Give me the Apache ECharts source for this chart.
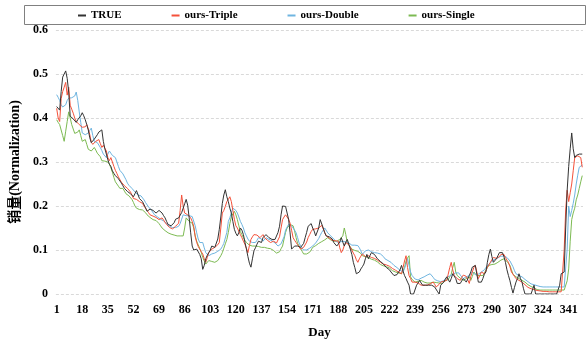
<!DOCTYPE html>
<html>
<head>
<meta charset="utf-8">
<script src="https://cdn.jsdelivr.net/npm/echarts@6/dist/echarts.min.js"></script>
<style>html,body{margin:0;padding:0;background:#fff}#c{width:587px;height:344px}</style>
</head>
<body>
<div id="c"></div>
<script>
const seriesNames = ['TRUE', 'ours-Triple', 'ours-Double', 'ours-Single'];
const yTicks = [0, 0.1, 0.2, 0.3, 0.4, 0.5, 0.6];

const trueVals = [
0.426,0.43,0.418,0.46,0.493,0.50,0.507,0.49,0.459,0.404,
0.40,0.398,0.396,0.39,0.396,0.398,0.405,0.412,0.405,0.396,
0.385,0.373,0.355,0.344,0.348,0.352,0.355,0.362,0.368,0.371,
0.373,0.347,0.33,0.318,0.305,0.295,0.29,0.28,0.274,0.269,
0.265,0.262,0.259,0.252,0.246,0.240,0.237,0.233,0.23,0.228,
0.224,0.221,0.228,0.235,0.237,0.217,0.214,0.21,0.206,0.196,
0.188,0.19,0.193,0.195,0.19,0.187,0.184,0.187,0.190,0.186,
0.184,0.178,0.173,0.165,0.158,0.156,0.155,0.154,0.162,0.170,
0.173,0.173,0.173,0.185,0.195,0.205,0.215,0.202,0.173,0.139,
0.109,0.100,0.100,0.102,0.100,0.09,0.08,0.056,0.065,0.080,
0.088,0.094,0.10,0.109,0.108,0.106,0.106,0.125,0.147,0.175,
0.206,0.225,0.237,0.221,0.21,0.195,0.184,0.165,0.147,0.138,
0.132,0.14,0.15,0.145,0.135,0.118,0.102,0.085,0.07,0.061,
0.08,0.098,0.105,0.113,0.12,0.118,0.117,0.128,0.132,0.135,
0.132,0.128,0.128,0.124,0.120,0.124,0.128,0.14,0.154,0.18,
0.2,0.2,0.199,0.199,0.17,0.139,0.102,0.105,0.109,0.109,
0.109,0.109,0.106,0.106,0.115,0.128,0.14,0.154,0.157,0.160,
0.150,0.143,0.132,0.132,0.15,0.169,0.173,0.15,0.139,0.132,
0.128,0.13,0.132,0.125,0.117,0.117,0.109,0.109,0.118,0.128,
0.118,0.109,0.118,0.124,0.113,0.102,0.09,0.072,0.06,0.046,
0.046,0.05,0.057,0.062,0.068,0.08,0.09,0.08,0.087,0.094,
0.094,0.09,0.087,0.08,0.076,0.074,0.072,0.068,0.065,0.06,
0.057,0.055,0.05,0.046,0.042,0.042,0.044,0.046,0.055,0.065,
0.052,0.042,0.035,0.027,0.02,0.0,0.0,0.0,0.0,0.02,
0.025,0.031,0.025,0.02,0.02,0.02,0.02,0.02,0.02,0.02,
0.018,0.016,0.014,0.005,0.0,0.02,0.022,0.027,0.033,0.039,
0.039,0.027,0.035,0.046,0.046,0.035,0.024,0.024,0.024,0.03,
0.035,0.031,0.027,0.027,0.042,0.05,0.061,0.063,0.065,0.045,
0.027,0.027,0.027,0.035,0.045,0.05,0.072,0.09,0.102,0.085,
0.072,0.075,0.080,0.087,0.094,0.094,0.094,0.085,0.072,0.055,
0.042,0.03,0.015,0.002,0.015,0.027,0.035,0.046,0.035,0.027,
0.012,0.0,0.0,0.0,0.0,0.0,0.0,0.02,0.0,0.0,
0,0,0,0,0,0,0,0,0,0,
0,0,0,0,0.02,0.046,0.05,0.05,0.15,0.236,
0.29,0.33,0.366,0.33,0.31,0.315,0.318,0.318,0.318,0.318
];

const tripleVals = [
0.422,0.40,0.392,0.444,0.46,0.47,0.481,0.452,0.470,0.429,
0.42,0.411,0.40,0.392,0.388,0.385,0.381,0.379,0.377,0.38,
0.385,0.375,0.362,0.345,0.340,0.344,0.347,0.349,0.351,0.342,
0.333,0.338,0.340,0.325,0.31,0.303,0.310,0.30,0.29,0.281,
0.274,0.266,0.26,0.254,0.25,0.246,0.243,0.24,0.236,0.232,
0.225,0.217,0.216,0.215,0.214,0.21,0.208,0.206,0.2,0.195,
0.19,0.185,0.180,0.178,0.177,0.176,0.174,0.171,0.169,0.172,
0.173,0.168,0.163,0.158,0.155,0.151,0.147,0.148,0.15,0.154,
0.156,0.161,0.19,0.225,0.2,0.184,0.182,0.180,0.176,0.173,
0.165,0.154,0.13,0.117,0.108,0.102,0.096,0.091,0.08,0.072,
0.083,0.094,0.098,0.102,0.104,0.106,0.108,0.112,0.117,0.15,
0.184,0.19,0.199,0.21,0.215,0.221,0.21,0.19,0.17,0.155,
0.150,0.142,0.135,0.128,0.12,0.113,0.104,0.094,0.11,0.124,
0.13,0.135,0.139,0.134,0.13,0.128,0.132,0.135,0.128,0.126,
0.122,0.12,0.117,0.118,0.12,0.117,0.116,0.117,0.13,0.15,
0.169,0.175,0.18,0.184,0.17,0.161,0.145,0.128,0.122,0.117,
0.112,0.107,0.102,0.104,0.106,0.109,0.118,0.128,0.135,0.142,
0.147,0.147,0.148,0.147,0.15,0.153,0.156,0.158,0.14,0.132,
0.13,0.127,0.124,0.122,0.122,0.121,0.120,0.12,0.105,0.094,
0.1,0.11,0.117,0.114,0.112,0.109,0.1,0.093,0.087,0.078,
0.072,0.08,0.086,0.091,0.088,0.085,0.086,0.087,0.085,0.083,
0.082,0.081,0.080,0.077,0.075,0.072,0.07,0.068,0.067,0.066,
0.065,0.063,0.06,0.058,0.056,0.054,0.052,0.05,0.048,0.046,
0.06,0.075,0.087,0.06,0.042,0.035,0.027,0.027,0.027,0.027,
0.025,0.023,0.02,0.02,0.02,0.02,0.02,0.02,0.023,0.025,
0.027,0.022,0.016,0.016,0.022,0.027,0.028,0.029,0.03,0.031,
0.045,0.06,0.072,0.055,0.042,0.038,0.035,0.032,0.031,0.038,
0.043,0.046,0.04,0.032,0.024,0.04,0.05,0.06,0.065,0.05,
0.035,0.042,0.050,0.048,0.046,0.052,0.061,0.066,0.072,0.078,
0.083,0.082,0.081,0.080,0.085,0.09,0.094,0.09,0.083,0.077,
0.072,0.062,0.05,0.046,0.04,0.035,0.033,0.031,0.029,0.027,
0.024,0.021,0.018,0.015,0.013,0.012,0.011,0.01,0.009,0.008,
0.008,0.007,0.007,0.006,0.006,0.006,0.005,0.005,0.005,0.005,
0.005,0.005,0.005,0.005,0.005,0.005,0.005,0.1,0.191,0.236,
0.21,0.23,0.25,0.28,0.31,0.312,0.314,0.318,0.31,0.288
];

const doubleVals = [
0.453,0.447,0.44,0.43,0.425,0.422,0.43,0.44,0.445,0.448,
0.446,0.444,0.45,0.459,0.44,0.414,0.39,0.366,0.364,0.362,
0.364,0.366,0.372,0.377,0.36,0.347,0.345,0.344,0.34,0.333,
0.326,0.318,0.314,0.310,0.318,0.325,0.32,0.315,0.312,0.310,
0.30,0.29,0.281,0.277,0.273,0.269,0.26,0.252,0.247,0.243,
0.24,0.236,0.232,0.228,0.225,0.224,0.223,0.221,0.214,0.208,
0.204,0.198,0.195,0.19,0.186,0.18,0.177,0.175,0.173,0.17,
0.168,0.166,0.163,0.16,0.157,0.154,0.152,0.151,0.150,0.151,
0.152,0.154,0.16,0.17,0.18,0.18,0.178,0.176,0.178,0.180,
0.176,0.173,0.155,0.139,0.125,0.117,0.117,0.117,0.105,0.094,
0.09,0.087,0.089,0.091,0.092,0.093,0.094,0.097,0.1,0.102,
0.108,0.115,0.117,0.14,0.165,0.173,0.185,0.195,0.199,0.19,
0.184,0.175,0.165,0.158,0.15,0.139,0.132,0.125,0.12,0.117,
0.117,0.117,0.117,0.122,0.128,0.132,0.125,0.120,0.124,0.128,
0.126,0.124,0.122,0.121,0.120,0.116,0.112,0.109,0.111,0.114,
0.117,0.13,0.145,0.152,0.158,0.157,0.155,0.154,0.145,0.139,
0.128,0.116,0.109,0.105,0.1,0.098,0.1,0.102,0.104,0.106,
0.109,0.112,0.116,0.12,0.126,0.133,0.14,0.145,0.150,0.147,
0.139,0.136,0.132,0.128,0.125,0.122,0.118,0.117,0.118,0.119,
0.120,0.119,0.118,0.117,0.116,0.114,0.111,0.109,0.111,0.113,
0.11,0.105,0.098,0.09,0.094,0.098,0.102,0.1,0.098,0.096,
0.095,0.094,0.093,0.093,0.092,0.091,0.088,0.085,0.08,0.078,
0.076,0.074,0.072,0.068,0.065,0.062,0.06,0.057,0.054,0.052,
0.050,0.058,0.068,0.080,0.065,0.05,0.042,0.038,0.034,0.031,
0.032,0.034,0.036,0.038,0.039,0.041,0.043,0.045,0.046,0.042,
0.038,0.033,0.031,0.030,0.029,0.028,0.027,0.03,0.034,0.038,
0.039,0.041,0.043,0.045,0.046,0.048,0.05,0.048,0.043,0.039,
0.035,0.037,0.039,0.041,0.042,0.045,0.05,0.047,0.044,0.042,
0.045,0.048,0.05,0.05,0.055,0.06,0.064,0.068,0.071,0.074,
0.077,0.079,0.08,0.082,0.084,0.086,0.087,0.086,0.085,0.083,
0.08,0.075,0.072,0.062,0.053,0.046,0.044,0.042,0.04,0.039,
0.036,0.033,0.03,0.028,0.025,0.023,0.022,0.021,0.02,0.019,
0.018,0.017,0.016,0.016,0.016,0.016,0.016,0.016,0.016,0.016,
0.016,0.016,0.016,0.016,0.016,0.016,0.016,0.016,0.016,0.102,
0.2,0.176,0.19,0.206,0.225,0.25,0.27,0.288,0.29,0.293
];

const singleVals = [
0.396,0.39,0.385,0.381,0.36,0.347,0.37,0.392,0.414,0.4,
0.385,0.375,0.365,0.362,0.368,0.373,0.36,0.347,0.349,0.351,
0.34,0.329,0.327,0.325,0.329,0.333,0.327,0.32,0.318,0.312,
0.303,0.299,0.302,0.306,0.30,0.295,0.287,0.277,0.265,0.255,
0.251,0.245,0.240,0.240,0.240,0.236,0.228,0.225,0.223,0.221,
0.215,0.208,0.2,0.195,0.193,0.192,0.191,0.191,0.191,0.185,
0.18,0.176,0.174,0.172,0.169,0.168,0.167,0.165,0.16,0.155,
0.15,0.147,0.144,0.141,0.139,0.137,0.136,0.135,0.134,0.133,
0.132,0.132,0.132,0.132,0.132,0.15,0.173,0.17,0.165,0.163,
0.161,0.15,0.132,0.12,0.112,0.109,0.095,0.083,0.075,0.068,
0.072,0.076,0.075,0.074,0.072,0.072,0.074,0.076,0.08,0.087,
0.094,0.104,0.114,0.124,0.14,0.16,0.176,0.182,0.188,0.18,
0.169,0.155,0.142,0.135,0.128,0.122,0.117,0.114,0.111,0.109,
0.109,0.109,0.109,0.109,0.108,0.107,0.106,0.106,0.106,0.105,
0.104,0.104,0.103,0.102,0.099,0.096,0.093,0.091,0.096,0.103,
0.109,0.125,0.14,0.15,0.154,0.158,0.161,0.155,0.143,0.128,
0.115,0.109,0.103,0.097,0.091,0.091,0.091,0.091,0.095,0.1,
0.106,0.108,0.11,0.113,0.115,0.117,0.119,0.120,0.123,0.126,
0.128,0.126,0.123,0.120,0.120,0.120,0.120,0.120,0.124,0.128,
0.132,0.150,0.135,0.117,0.112,0.108,0.102,0.1,0.099,0.098,
0.097,0.095,0.092,0.087,0.086,0.085,0.084,0.083,0.081,0.079,
0.078,0.077,0.076,0.073,0.07,0.067,0.065,0.064,0.063,0.062,
0.061,0.059,0.056,0.053,0.051,0.05,0.049,0.048,0.047,0.046,
0.05,0.06,0.075,0.082,0.087,0.039,0.033,0.03,0.027,0.028,
0.029,0.03,0.031,0.029,0.027,0.026,0.025,0.024,0.025,0.026,
0.027,0.027,0.026,0.025,0.025,0.024,0.024,0.027,0.03,0.031,
0.033,0.035,0.045,0.06,0.072,0.05,0.042,0.039,0.036,0.033,
0.031,0.031,0.035,0.037,0.039,0.031,0.04,0.05,0.046,0.042,
0.042,0.042,0.042,0.042,0.048,0.054,0.06,0.065,0.066,0.067,
0.068,0.068,0.07,0.072,0.076,0.077,0.078,0.080,0.078,0.074,
0.07,0.065,0.055,0.045,0.042,0.039,0.037,0.035,0.033,0.031,
0.029,0.027,0.024,0.021,0.019,0.017,0.016,0.014,0.012,0.01,
0.009,0.009,0.009,0.009,0.009,0.009,0.009,0.009,0.009,0.009,
0.009,0.009,0.009,0.009,0.009,0.009,0.009,0.009,0.009,0.03,
0.057,0.12,0.169,0.184,0.195,0.214,0.225,0.24,0.255,0.269
];

const days = trueVals.map((_, i) => String(i + 1));
const colors = ['#333333', '#f4513a', '#6fb5e0', '#7cba52'];
const font = "'Liberation Serif', 'Times New Roman', 'Noto Sans CJK SC', serif";

const chart = echarts.init(document.getElementById('c'), null, {renderer: 'canvas'});
chart.setOption({
  animation: false,
  backgroundColor: '#fff',
  graphic: [{
    type: 'rect', left: 22, top: 3,
    shape: {width: 561, height: 19},
    style: {fill: 'none', stroke: '#808080', lineWidth: 1}
  }],
  legend: {
    data: seriesNames,
    left: 73, top: 5,
    itemGap: 50, itemWidth: 8, itemHeight: 2,
    icon: 'rect',
    textStyle: {fontFamily: font, fontWeight: 'bold', fontSize: 11, color: '#000'}
  },
  grid: {left: 51, right: 4, top: 30, bottom: 45, containLabel: false},
  xAxis: {
    type: 'category',
    data: days,
    boundaryGap: true,
    name: 'Day',
    nameLocation: 'middle',
    nameGap: 32,
    nameTextStyle: {fontFamily: font, fontWeight: 'bold', fontSize: 13, color: '#000'},
    axisLine: {show: false},
    axisTick: {show: false},
    axisLabel: {interval: 16, margin: 10, fontFamily: font, fontWeight: 'bold', fontSize: 12, color: '#000'}
  },
  yAxis: {
    type: 'value',
    min: yTicks[0], max: yTicks[yTicks.length - 1], interval: 0.1,
    name: '销量(Normalization)',
    nameLocation: 'middle',
    nameGap: 31,
    nameTextStyle: {fontFamily: font, fontWeight: 'bold', fontSize: 14, color: '#000'},
    axisLine: {show: false},
    axisTick: {show: false},
    axisLabel: {margin: 8, fontFamily: font, fontWeight: 'bold', fontSize: 12, color: '#000',
      formatter: v => String(Math.round(v * 10) / 10)},
    splitLine: {lineStyle: {color: '#d9d9d9', type: [3, 2], width: 1}}
  },
  series: [trueVals, tripleVals, doubleVals, singleVals].map((d, i) => ({
    name: seriesNames[i],
    type: 'line',
    data: d,
    symbol: 'none',
    lineStyle: {color: colors[i], width: 1},
    itemStyle: {color: colors[i]},
    z: [5, 4, 3, 2][i]
  }))
});
</script>
</body>
</html>
